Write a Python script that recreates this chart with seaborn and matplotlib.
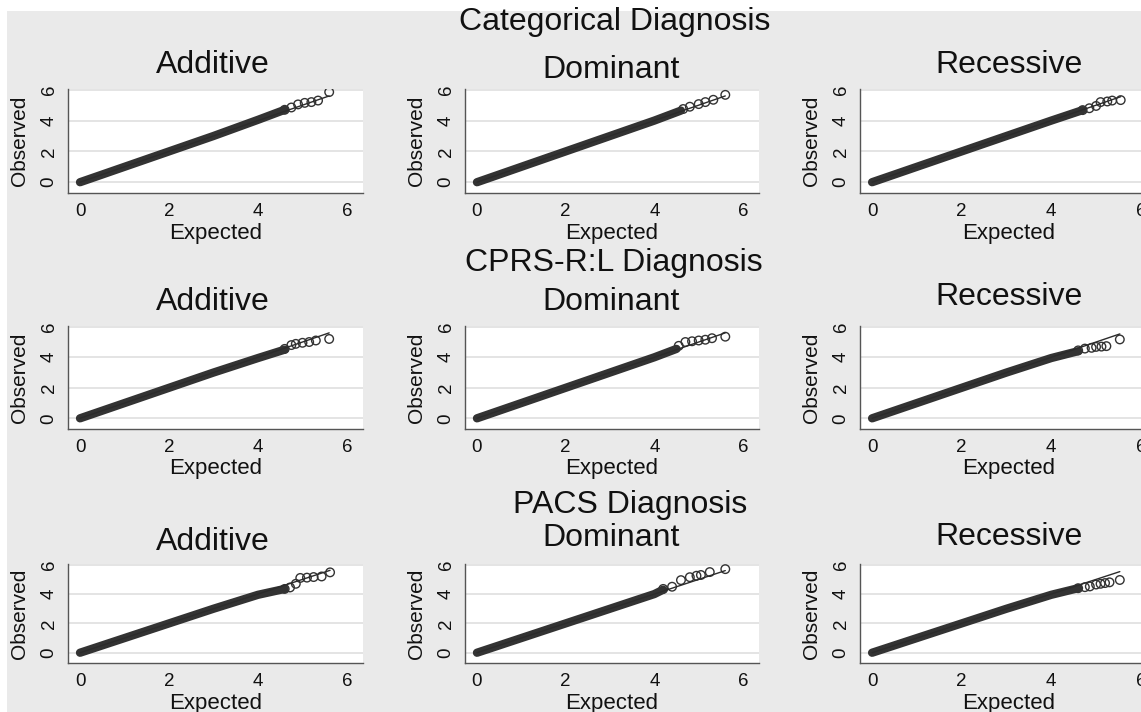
import numpy as np
import pandas as pd
import seaborn as sns
import matplotlib.pyplot as plt
from matplotlib.patches import Rectangle

groups = ["Categorical Diagnosis", "CPRS-R:L Diagnosis", "PACS Diagnosis"]
models = ["Additive", "Dominant", "Recessive"]

# dense body of each qq plot (expected vs observed -log10 p)
cat_add_body_exp = [0, 1, 2, 3, 4, 4.6]
cat_add_body_obs = [0, 1, 2, 3, 4.05, 4.7]
cat_dom_body_exp = [0, 1, 2, 3, 4, 4.6]
cat_dom_body_obs = [0, 1, 2, 3, 4.0, 4.65]
cat_rec_body_exp = [0, 1, 2, 3, 4, 4.7]
cat_rec_body_obs = [0, 1, 2, 3, 4.0, 4.68]
cpr_add_body_exp = [0, 1, 2, 3, 4, 4.6]
cpr_add_body_obs = [0, 1, 2, 3, 3.95, 4.5]
cpr_dom_body_exp = [0, 1, 2, 3, 4, 4.5]
cpr_dom_body_obs = [0, 1, 2, 3, 4.0, 4.55]
cpr_rec_body_exp = [0, 1, 2, 3, 4, 4.6]
cpr_rec_body_obs = [0, 1, 2, 3, 3.95, 4.4]
pac_add_body_exp = [0, 1, 2, 3, 4, 4.6]
pac_add_body_obs = [0, 1, 2, 3, 3.95, 4.35]
pac_dom_body_exp = [0, 1, 2, 3, 4, 4.2]
pac_dom_body_obs = [0, 1, 2, 3, 4.0, 4.3]
pac_rec_body_exp = [0, 1, 2, 3, 4, 4.6]
pac_rec_body_obs = [0, 1, 2, 3, 3.95, 4.4]

# separate points in the upper tail
cat_add_tail_exp = [4.6, 4.75, 4.9, 5.05, 5.2, 5.35, 5.6]
cat_add_tail_obs = [4.7, 4.85, 5.05, 5.15, 5.2, 5.3, 5.85]
cat_dom_tail_exp = [4.65, 4.8, 5.0, 5.15, 5.33, 5.6]
cat_dom_tail_obs = [4.75, 4.9, 5.07, 5.2, 5.35, 5.67]
cat_rec_tail_exp = [4.7, 4.85, 5.0, 5.1, 5.25, 5.36, 5.55]
cat_rec_tail_obs = [4.68, 4.8, 4.95, 5.2, 5.24, 5.3, 5.33]
cpr_add_tail_exp = [4.6, 4.75, 4.85, 5.0, 5.15, 5.3, 5.6]
cpr_add_tail_obs = [4.55, 4.8, 4.88, 4.95, 5.0, 5.1, 5.2]
cpr_dom_tail_exp = [4.55, 4.7, 4.85, 5.0, 5.15, 5.3, 5.6]
cpr_dom_tail_obs = [4.75, 5.0, 5.05, 5.1, 5.15, 5.25, 5.35]
cpr_rec_tail_exp = [4.6, 4.75, 4.9, 5.0, 5.12, 5.23, 5.53]
cpr_rec_tail_obs = [4.45, 4.57, 4.62, 4.68, 4.7, 4.73, 5.17]
pac_add_tail_exp = [4.6, 4.72, 4.85, 4.95, 5.1, 5.25, 5.43, 5.62]
pac_add_tail_obs = [4.35, 4.45, 4.7, 5.1, 5.12, 5.16, 5.2, 5.48]
pac_dom_tail_exp = [4.2, 4.4, 4.6, 4.8, 4.95, 5.05, 5.25, 5.6]
pac_dom_tail_obs = [4.35, 4.5, 4.95, 5.15, 5.25, 5.3, 5.5, 5.7]
pac_rec_tail_exp = [4.6, 4.75, 4.86, 5.0, 5.1, 5.2, 5.3, 5.53]
pac_rec_tail_obs = [4.4, 4.47, 4.52, 4.65, 4.7, 4.75, 4.8, 4.96]

panels = [
    [(cat_add_body_exp, cat_add_body_obs, cat_add_tail_exp, cat_add_tail_obs),
     (cat_dom_body_exp, cat_dom_body_obs, cat_dom_tail_exp, cat_dom_tail_obs),
     (cat_rec_body_exp, cat_rec_body_obs, cat_rec_tail_exp, cat_rec_tail_obs)],
    [(cpr_add_body_exp, cpr_add_body_obs, cpr_add_tail_exp, cpr_add_tail_obs),
     (cpr_dom_body_exp, cpr_dom_body_obs, cpr_dom_tail_exp, cpr_dom_tail_obs),
     (cpr_rec_body_exp, cpr_rec_body_obs, cpr_rec_tail_exp, cpr_rec_tail_obs)],
    [(pac_add_body_exp, pac_add_body_obs, pac_add_tail_exp, pac_add_tail_obs),
     (pac_dom_body_exp, pac_dom_body_obs, pac_dom_tail_exp, pac_dom_tail_obs),
     (pac_rec_body_exp, pac_rec_body_obs, pac_rec_tail_exp, pac_rec_tail_obs)],
]

sns.set_style("white")
plt.rcParams['font.family'] = ['Liberation Sans', 'DejaVu Sans']

W, H = 1141, 712
fig = plt.figure(figsize=(W / 100, H / 100), dpi=100, facecolor="white")
fig.patches.append(Rectangle((7 / W, 0), 1, (H - 11) / H, transform=fig.transFigure,
                             facecolor="#eaeaea", edgecolor="none", zorder=-10))

# layout in pixels (top-origin)
cols = [(68, 363), (465, 759), (860, 1157)]
rows = [(89, 193), (326, 429), (564, 663)]
title_x = [213, 611, 1009]
title_y = [[65, 70, 65], [302, 302, 297], [542, 538, 537]]
group_pos = [(615, 22), (614, 263), (630, 505)]

ink = "#2b2b2b"
for r in range(3):
    gx, gy = group_pos[r]
    fig.text(gx / W, 1 - gy / H, groups[r], ha="center", va="center", fontsize=23, color="#111111")
    for c in range(3):
        l, rr = cols[c]
        t, b = rows[r]
        ax = fig.add_axes([l / W, 1 - b / H, (rr - l) / W, (b - t) / H])
        ax.set_facecolor("white")
        bx, by, tx, ty = panels[r][c]
        sns.lineplot(x=bx, y=by, ax=ax, color="#333333", linewidth=6,
                     sort=False, estimator=None, solid_capstyle="round", zorder=3)
        sns.scatterplot(x=tx, y=ty, ax=ax, marker="o", s=38, facecolors="none",
                        edgecolor="#333333", linewidth=1.0, zorder=4)
        top = max(tx)
        sns.lineplot(x=[0, top], y=[0, top], ax=ax, color=ink, linewidth=1.0,
                     sort=False, estimator=None, zorder=5)
        ax.set_xlim(-0.27, 6.36)
        ax.set_ylim(-0.7, 6.05)
        ax.set_xticks([0, 2, 4, 6])
        ax.set_yticks([0, 2, 4, 6])
        ax.yaxis.grid(True, color="#e2e2e2", linewidth=1.3, zorder=0)
        ax.xaxis.grid(False)
        ax.set_axisbelow(True)
        for s in ["top", "right"]:
            ax.spines[s].set_visible(False)
        for s in ["left", "bottom"]:
            ax.spines[s].set_color("#555555")
            ax.spines[s].set_linewidth(1.0)
        ax.tick_params(axis="both", which="major", direction="out", length=4.5, width=0.8,
                       color="#555555", labelsize=13.5, labelcolor="#111111")
        ax.tick_params(axis="x", pad=2.5)
        ax.tick_params(axis="y", pad=3)
        for lab in ax.get_yticklabels():
            lab.set_rotation(90)
            lab.set_va("center")
        ax.set_xlabel("Expected", fontsize=16, labelpad=2, color="#111111")
        ax.set_ylabel("Observed", fontsize=15, labelpad=8, color="#111111")
        fig.text(title_x[c] / W, 1 - title_y[r][c] / H, models[c], ha="center", va="center",
                 fontsize=23, color="#111111")

fig.savefig("out.png", dpi=100, facecolor=fig.get_facecolor())
